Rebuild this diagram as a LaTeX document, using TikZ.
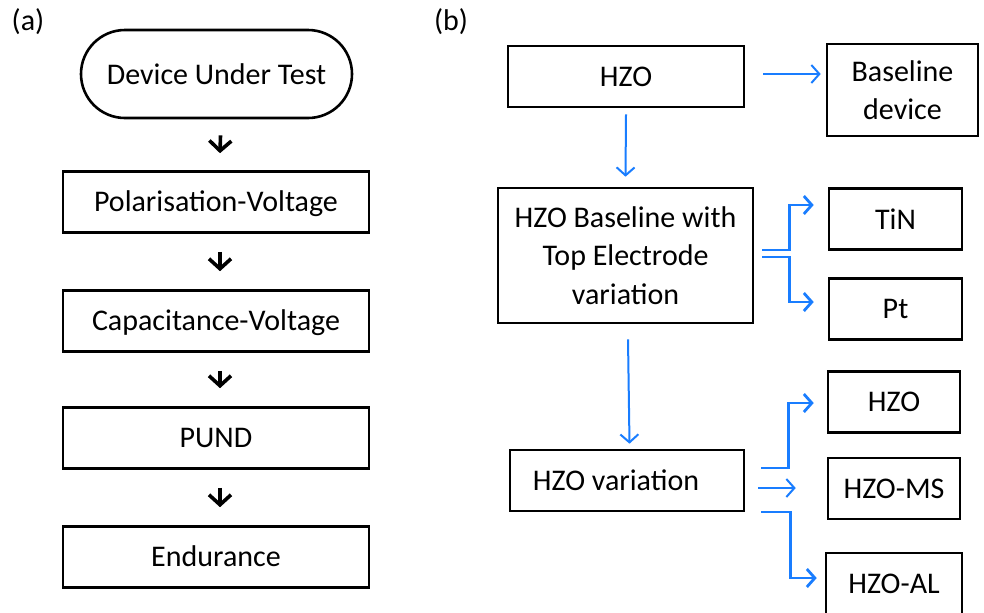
\documentclass[tikz,border=0pt]{standalone}
\usepackage{fontspec}
\setmainfont{Carlito}
\usetikzlibrary{arrows.meta}
\definecolor{hzoblue}{RGB}{25,125,255}

\begin{document}
\begin{tikzpicture}[x=0.5pt,y=-0.5pt]
    \tikzstyle{every node}=[font=\fontsize{15}{19.3}\selectfont]
    \tikzstyle{box}=[draw, line width=1.3pt, inner sep=0pt, align=center, minimum height=30.5pt]
    \tikzstyle{stage}=[box, minimum width=153pt, text height=12pt, text depth=3pt]
    \tikzstyle{flow}=[-{Straight Barb[length=5pt,width=11pt]}, line width=1.8pt]
    \tikzstyle{link}=[-{Straight Barb[length=4pt,width=9pt]}, draw=hzoblue, line width=1pt]
    \tikzstyle{branch}=[link, line width=1.4pt]

    \useasboundingbox (0,0) rectangle (984,612);

    % (a) measurement flow
    \node at (28,22) {(a)};
    \node[box, rounded corners=22pt, minimum width=135.5pt, minimum height=44pt] (dut) at (216.5,74) {Device Under Test};
    \node[stage] (pv) at (216,202) {Polarisation-Voltage};
    \node[stage] (cv) at (216,321) {Capacitance-Voltage};
    \node[stage] (pund) at (216,438) {PUND};
    \node[stage] (endur) at (216,557) {Endurance};

    \draw[flow] ([xshift=2pt,yshift=-8pt]dut.south) -- ([xshift=2pt,yshift=8.5pt]pv.north);
    \draw[flow] ([xshift=2pt,yshift=-9pt]pv.south) -- ([xshift=2pt,yshift=9pt]cv.north);
    \draw[flow] ([xshift=2pt,yshift=-9pt]cv.south) -- ([xshift=2pt,yshift=9pt]pund.north);
    \draw[flow] ([xshift=2pt,yshift=-9pt]pund.south) -- ([xshift=2pt,yshift=9pt]endur.north);

    % (b) device variations
    \node at (451,22) {(b)};
    \node[box, minimum width=118pt] (hzo) at (626,76.5) {HZO};
    \node[box, minimum width=75.5pt, minimum height=46pt] (base) at (902.5,90) {Baseline\\device};
    \node[box, minimum width=127.5pt, minimum height=67.5pt] (hzobl) at (625.5,255.5) {HZO Baseline with\\Top Electrode\\variation};
    \node[box, minimum width=66.5pt] (tin) at (895.5,219) {TiN};
    \node[box, minimum width=66.5pt] (pt) at (895.5,309) {Pt};
    \node[box, minimum width=117pt] (hzovar) at (627,480.5) {HZO variation\hspace*{11pt}};
    \node[box, minimum width=66pt] (hzoa) at (894,402) {HZO};
    \node[box, minimum width=66pt] (hzoms) at (894,488.5) {HZO-MS};
    \node[box, minimum width=68pt] (hzoal) at (894,583.5) {HZO-AL};

    \coordinate (ho) at ([xshift=9pt,yshift=1.25pt]hzo.east);
    \draw[link] (ho) -- ([xshift=-2.5pt]base.west |- ho);
    \draw[link] ([yshift=-3pt]hzo.south) -- ([yshift=5pt]hzobl.north);
    \draw[link] ([xshift=1.25pt,yshift=-7.5pt]hzobl.south) -- ([xshift=1.25pt,yshift=2.5pt]hzovar.north);

    \coordinate (eu) at ([xshift=4pt,yshift=2.75pt]hzobl.east);
    \coordinate (el) at ([xshift=4pt,yshift=-0.75pt]hzobl.east);
    \draw[branch] (eu) -- ++(13.5pt,0) |- ([xshift=-7pt,yshift=7pt]tin.west);
    \draw[branch] (el) -- ++(13.5pt,0) |- ([xshift=-7pt,yshift=3.5pt]pt.west);

    \coordinate (vu) at ([xshift=8pt,yshift=6.25pt]hzovar.east);
    \coordinate (vm) at ([xshift=6.5pt,yshift=-3.75pt]hzovar.east);
    \coordinate (vl) at ([xshift=8pt,yshift=-15.75pt]hzovar.east);
    \draw[branch] (vu) -- ++(13.5pt,0) |- ([xshift=-6.5pt,yshift=-0.5pt]hzoa.west);
    \draw[link] (vm) -- ([xshift=-15.5pt]hzoms.west |- vm);
    \draw[branch] (vl) -- ++(14.5pt,0) |- ([xshift=-4pt,yshift=2.75pt]hzoal.west);
\end{tikzpicture}
\end{document}
